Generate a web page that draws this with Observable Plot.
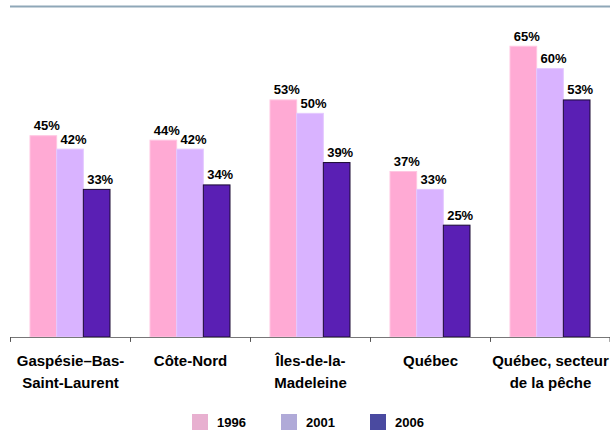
<!DOCTYPE html>
<html>
<head>
<meta charset="utf-8">
<script src="https://cdn.jsdelivr.net/npm/d3@7"></script>
<script src="https://cdn.jsdelivr.net/npm/@observablehq/plot@0.6"></script>
<style>
  body { margin: 0; background: #fff; font-family: "Liberation Sans", Arial, sans-serif; }
  #legend { height: 40px; }
  .item { position: absolute; display: flex; align-items: center; font-weight: bold; font-size: 13px; color: #000; }
  .sw { width: 16px; height: 16px; margin-right: 9px; }
</style>
</head>
<body>
<div id="chart"></div>
<div id="legend" style="position:relative"></div>
<script>
const categories = ["Gaspésie–Bas-Saint-Laurent", "Côte-Nord", "Îles-de-la-Madeleine", "Québec", "Québec, secteur de la pêche"];
const categoryLabels = ["Gaspésie–Bas-\nSaint-Laurent", "Côte-Nord", "Îles-de-la-\nMadeleine", "Québec", "Québec, secteur\nde la pêche"];
const years = ["1996", "2001", "2006"];
const v1996 = [45, 44, 53, 37, 65];
const v2001 = [42, 42, 50, 33, 60];
const v2006 = [33, 34, 39, 25, 53];
const barFill = ["#ffaad4", "#d9b3ff", "#5a1fb4"];
const barStroke = ["#ffc6e2", "#e4c8ff", "#1a0a33"];
const legendColors = ["#e8b0d0", "#b0aad8", "#4a4aa0"];

const series = [v1996, v2001, v2006];
const rows = series.map((vals, s) => categories.map((c, i) => ({cat: c, year: years[s], value: vals[i]})));

const insets = [[20, 73.33], [46.67, 46.67], [73.33, 20]];
const labelDx = [-26.67 + 3, 3, 26.67 + 3];

const marks = [
  Plot.ruleY([74], {stroke: "#8fa7b8", strokeWidth: 2})
];
rows.forEach((data, s) => {
  marks.push(Plot.barY(data, {
    x: "cat", y: "value",
    fill: barFill[s], stroke: barStroke[s], strokeWidth: 1,
    insetLeft: insets[s][0], insetRight: insets[s][1]
  }));
  marks.push(Plot.text(data, {
    x: "cat", y: "value", text: d => d.value + "%",
    dx: labelDx[s], dy: -6, lineAnchor: "bottom",
    fontSize: 13, fontWeight: "bold", fill: "#000"
  }));
});
marks.push(Plot.ruleY([0], {stroke: "#777", strokeWidth: 1}));
marks.push(Plot.ruleX(categories, {x: d => d, dx: -60, y1: 0, y2: -1.1, stroke: "#555"}));
marks.push(Plot.ruleX(categories.slice(-1), {x: d => d, dx: 59.5, y1: 0, y2: -1.1, stroke: "#555"}));
marks.push(Plot.text(categories, {
  x: d => d, y: 0, text: (d, i) => categoryLabels[i],
  dy: 13, lineAnchor: "top", lineHeight: 1.45,
  fontSize: 15, fontWeight: "bold", fill: "#000"
}));

const chart = Plot.plot({
  width: 610,
  height: 400,
  marginTop: 6,
  marginBottom: 63,
  marginLeft: 10,
  marginRight: 0,
  style: {fontFamily: "Liberation Sans, Arial, sans-serif", background: "#fff", overflow: "visible"},
  x: {type: "band", domain: categories, padding: 0, axis: null},
  y: {domain: [0, 74], axis: null},
  marks
});
document.getElementById("chart").appendChild(chart);

const legend = document.getElementById("legend");
const lx = [192, 281, 370];
years.forEach((y, i) => {
  const item = document.createElement("div");
  item.className = "item";
  item.style.left = lx[i] + "px";
  item.style.top = "14px";
  const sw = document.createElement("div");
  sw.className = "sw";
  sw.style.background = legendColors[i];
  const t = document.createElement("span");
  t.textContent = y;
  item.appendChild(sw);
  item.appendChild(t);
  legend.appendChild(item);
});
</script>
</body>
</html>
